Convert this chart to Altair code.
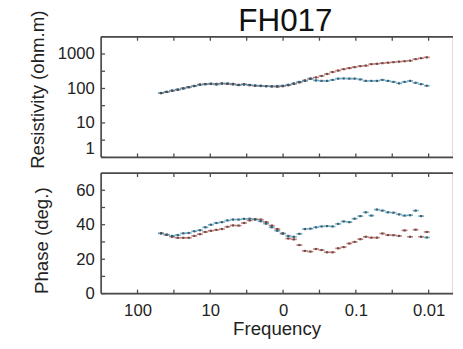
import altair as alt
import pandas as pd

# ---- data ----
title_text = ["FH017"]

freq = [47.4, 39.8, 33.4, 28.0, 23.5, 19.8, 16.6, 13.9, 11.7, 9.82,
        8.24, 6.92, 5.81, 4.88, 4.09, 3.44, 2.88, 2.42, 2.03, 1.71,
        1.43, 1.20, 1.01, 0.847, 0.711, 0.597, 0.501, 0.421, 0.353, 0.296,
        0.249, 0.209, 0.175, 0.147, 0.123, 0.104, 0.0869, 0.0730, 0.0612, 0.0514,
        0.0432, 0.0362, 0.0304, 0.0255, 0.0214, 0.0180, 0.0151, 0.0127, 0.0106]

rho_red = [73, 80, 86, 92, 101, 108, 119, 130, 135, 135,
           136, 140, 136, 136, 128, 133, 124, 120, 120, 116,
           116, 112, 116, 124, 136, 150, 171, 189, 209, 231,
           263, 300, 331, 363, 389, 416, 445, 460, 508, 520,
           542, 560, 580, 600, 618, 640, 710, 755, 800]

rho_blue = [74, 79, 87, 93, 100, 110, 117, 128, 132, 138,
            130, 138, 140, 131, 125, 130, 127, 122, 118, 117,
            114, 118, 120, 128, 140, 155, 166, 195, 171, 166,
            166, 177, 193, 195, 193, 193, 183, 166, 166, 166,
            177, 166, 155, 141, 155, 166, 146, 133, 120]

phase_red = [35.0, 34.2, 33.0, 32.4, 32.4, 32.4, 33.5, 34.5, 35.8, 36.5,
             37.0, 37.5, 38.8, 39.6, 39.5, 41.0, 42.5, 43.2, 43.0, 41.5,
             39.5, 37.5, 34.9, 32.0, 31.5, 28.2, 24.8, 24.4, 25.9, 25.3,
             24.0, 24.0, 26.3, 27.0, 29.1, 30.0, 31.6, 33.0, 32.5, 32.5,
             34.9, 34.0, 33.9, 33.5, 36.7, 33.0, 37.1, 33.0, 35.8]

phase_blue = [35.0, 34.2, 33.5, 34.0, 35.0, 35.2, 36.2, 36.8, 38.5, 40.0,
              41.0, 41.5, 42.5, 43.0, 43.0, 43.4, 43.5, 43.0, 42.0, 40.6,
              38.5, 36.5, 34.9, 33.5, 33.0, 34.7, 37.5, 37.7, 38.5, 39.0,
              39.2, 39.0, 40.5, 41.9, 41.5, 43.5, 45.0, 47.2, 45.3, 48.8,
              48.2, 47.2, 47.0, 46.0, 45.3, 45.5, 48.2, 45.0, 32.6]

series_names = ["xy", "yx"]
series_colors = ["#cc5a52", "#3aa3cf"]

x_ticks = [100, 31.623, 10, 3.1623, 1, 0.31623, 0.1, 0.031623, 0.01]
x_label_values = [100, 10, 1, 0.1, 0.01]
x_label_text = ["100", "10", "0", "0.1", "0.01"]
rho_ticks = [1, 3.1623, 10, 31.623, 100, 316.23, 1000]
rho_labels = [1, 10, 100, 1000]
phase_ticks = [0, 10, 20, 30, 40, 50, 60]
phase_labels = [0, 20, 40, 60]

# ---- layout / style ----
W, H = 358, 123
FONT = "Liberation Sans"
FRAME = "#4a4a4a"
DOT = "#4d4d4d"
TL = 4

# visible frequency window (right edge is cut by the figure edge in the reference)
x_dom = [0.004766, 316.23]

rows = []
for i, f in enumerate(freq):
    rows.append({"f": f, "rho": rho_red[i], "phase": phase_red[i], "s": series_names[0]})
    rows.append({"f": f, "rho": rho_blue[i], "phase": phase_blue[i], "s": series_names[1]})
df = pd.DataFrame(rows)

xs = alt.Scale(type="log", domain=x_dom, reverse=True, nice=False)
col = alt.Color("s:N", scale=alt.Scale(domain=series_names, range=series_colors), legend=None)

label_expr = " : ".join(
    f"datum.value == {v} ? '{t}'" for v, t in zip(x_label_values, x_label_text)
) + " : ''"

xt_df = pd.DataFrame({"f": x_ticks})
one = pd.DataFrame({"a": [0]})


def panel(field, yscale, yaxis, yticks, x_axis, extra=None):
    base = alt.Chart(df)
    xenc = alt.X("f:Q", scale=xs, axis=x_axis)
    bars = base.mark_tick(orient="horizontal", size=6, thickness=1.6, opacity=0.8).encode(
        x=xenc,
        y=alt.Y(f"{field}:Q", scale=yscale, axis=yaxis),
        color=col,
    )
    dots = base.mark_square(size=5, color=DOT, opacity=0.9).encode(
        x=xenc, y=alt.Y(f"{field}:Q", scale=yscale),
    )
    xt = alt.Chart(xt_df)
    t_top = xt.mark_rule(color=FRAME, strokeWidth=1.3).encode(
        x=alt.X("f:Q", scale=xs), y=alt.value(0), y2=alt.value(TL))
    t_bot = xt.mark_rule(color=FRAME, strokeWidth=1.3).encode(
        x=alt.X("f:Q", scale=xs), y=alt.value(H), y2=alt.value(H - TL))
    yt = alt.Chart(pd.DataFrame({field: yticks})).mark_rule(color=FRAME, strokeWidth=1.3).encode(
        y=alt.Y(f"{field}:Q", scale=yscale), x=alt.value(0), x2=alt.value(TL))
    fr = alt.Chart(one)
    b_top = fr.mark_rule(color=FRAME, strokeWidth=1.7).encode(
        x=alt.value(0), x2=alt.value(W + 1), y=alt.value(0))
    b_bot = fr.mark_rule(color=FRAME, strokeWidth=1.7).encode(
        x=alt.value(0), x2=alt.value(W + 1), y=alt.value(H))
    b_left = fr.mark_rule(color=FRAME, strokeWidth=1.7).encode(
        x=alt.value(0), y=alt.value(0), y2=alt.value(H))
    layers = [bars, dots, t_top, t_bot, yt, b_top, b_bot, b_left]
    if extra is not None:
        layers.append(extra)
    return alt.layer(*layers).properties(width=W, height=H)


ax_common = dict(labelFont=FONT, titleFont=FONT, labelFontSize=17, titleFontSize=19,
                 labelColor="#222", titleColor="#222", titleFontWeight="normal",
                 domain=False, ticks=False, grid=False)

title_mark = alt.Chart(pd.DataFrame({"t": title_text})).mark_text(
    font=FONT, fontSize=32, color="#111", baseline="alphabetic", align="center"
).encode(text="t:N", x=alt.value(188), y=alt.value(-6))

top = panel(
    "rho",
    alt.Scale(type="log", domain=[1, 3162.3], nice=False),
    alt.Axis(title="Resistivity (ohm.m)", values=rho_labels, format="d", labelFlush=True,
             labelPadding=7, titlePadding=10, titleY=H / 2 - 8, titleBaseline="bottom",
             **ax_common),
    rho_ticks,
    None,
    extra=title_mark,
)

bottom = panel(
    "phase",
    alt.Scale(domain=[0, 70], nice=False),
    alt.Axis(title="Phase (deg.)", values=phase_labels, labelPadding=7, titlePadding=25,
             titleY=H / 2 + 7, titleBaseline="bottom", labelFlush=False, **ax_common),
    phase_ticks,
    alt.Axis(title="Frequency", values=x_ticks, labelExpr=label_expr, labelPadding=9,
             titlePadding=2, labelFlush=False, **ax_common),
)

chart = alt.vconcat(top, bottom, spacing=16, bounds="flush").properties(
    padding={"left": 20, "top": -7, "right": 0, "bottom": 0},
).configure_view(stroke=None).configure(background="white")

chart.save("out.html", embed_options={"renderer": "svg", "actions": False})
